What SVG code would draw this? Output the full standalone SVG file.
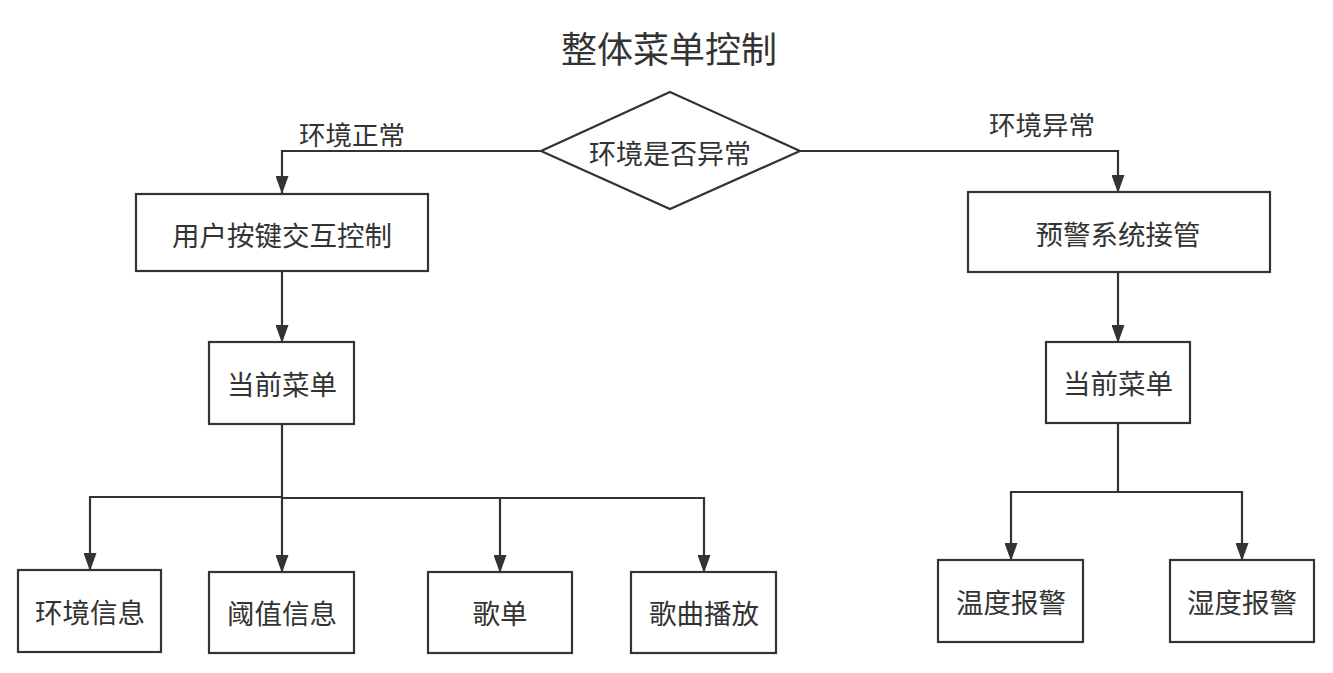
<svg xmlns="http://www.w3.org/2000/svg" width="1333" height="673" viewBox="0 0 1333 673">
<style>
.box{fill:#fff;stroke:#333;stroke-width:2.2}
.t{font-family:"Noto Sans CJK SC","Microsoft YaHei",sans-serif;font-size:27.5px;fill:#333;text-anchor:middle;dominant-baseline:central}
.lbl{font-size:26.5px}
.dt{font-size:27px}
.title{font-size:36px}
.c{fill:none;stroke:#333;stroke-width:2.2}
</style>
<defs>
<marker id="a" markerWidth="18" markerHeight="13" refX="17" refY="6.5" orient="auto" markerUnits="userSpaceOnUse" viewBox="0 0 18 13">
<path d="M0,0 L18,6.5 L0,13 Z" fill="#333"/>
</marker>
</defs>
<text class="t title" x="669" y="47">整体菜单控制</text>
<g id="connectors">
<path class="c" d="M541,151 H282 V193" marker-end="url(#a)"/>
<path class="c" d="M800,151 H1118 V192" marker-end="url(#a)"/>
<path class="c" d="M282,271 V342" marker-end="url(#a)"/>
<path class="c" d="M1118,272 V342" marker-end="url(#a)"/>
<path class="c" d="M282,424 V497 H90 V570" marker-end="url(#a)"/>
<path class="c" d="M282,497 V572" marker-end="url(#a)"/>
<path class="c" d="M282,498 H500 V572" marker-end="url(#a)"/>
<path class="c" d="M500,498 H704 V572" marker-end="url(#a)"/>
<path class="c" d="M1118,423 V492 H1011 V560" marker-end="url(#a)"/>
<path class="c" d="M1118,492 H1242 V560" marker-end="url(#a)"/>
<text class="t lbl" x="352" y="133">环境正常</text>
<text class="t lbl" x="1042" y="123">环境异常</text>
</g>
<g id="decision">
<polygon class="box" points="670,92 800,151 670,209 541,151"/>
<text class="t dt" x="670" y="152">环境是否异常</text>
</g>
<g id="user">
<rect class="box" x="136" y="194" width="292" height="77"/>
<text class="t" x="282" y="234">用户按键交互控制</text>
</g>
<g id="warn">
<rect class="box" x="968" y="192" width="302" height="80"/>
<text class="t" x="1118" y="233">预警系统接管</text>
</g>
<g id="menuL">
<rect class="box" x="209" y="342" width="145" height="82"/>
<text class="t" x="282" y="383">当前菜单</text>
</g>
<g id="menuR">
<rect class="box" x="1046" y="342" width="144" height="81"/>
<text class="t" x="1118" y="382">当前菜单</text>
</g>
<g id="envinfo">
<rect class="box" x="18" y="570" width="143" height="82"/>
<text class="t" x="90" y="611">环境信息</text>
</g>
<g id="thresh">
<rect class="box" x="209" y="572" width="145" height="81"/>
<text class="t" x="282" y="612">阈值信息</text>
</g>
<g id="playlist">
<rect class="box" x="428" y="572" width="144" height="81"/>
<text class="t" x="500" y="612">歌单</text>
</g>
<g id="play">
<rect class="box" x="631" y="572" width="145" height="81"/>
<text class="t" x="704" y="612">歌曲播放</text>
</g>
<g id="temp">
<rect class="box" x="938" y="560" width="145" height="82"/>
<text class="t" x="1011" y="601">温度报警</text>
</g>
<g id="humid">
<rect class="box" x="1170" y="560" width="144" height="82"/>
<text class="t" x="1242" y="601">湿度报警</text>
</g>
</svg>
